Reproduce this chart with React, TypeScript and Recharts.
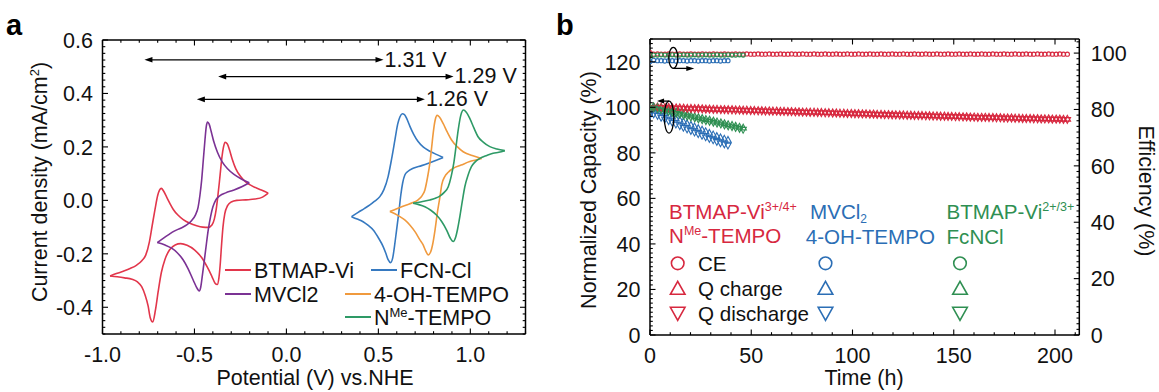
import React from 'react';
import { ComposedChart, Line, Scatter, XAxis, YAxis, ReferenceLine, ReferenceDot } from 'recharts';

const FONT = '"Liberation Sans", Arial, Helvetica, sans-serif';
const FS = 21.5;
const FSB = 20.6;

// ---------- colours ----------
const C_RED = '#e2364b';
const C_PURPLE = '#7b3294';
const C_BLUE = '#3679c0';
const C_ORANGE = '#f09a3e';
const C_GREEN = '#2e9a66';
const B_RED = '#d7283f';
const B_BLUE = '#2b6eb5';
const B_GREEN = '#2f8f52';

// ---------- panel a : cyclic voltammograms (potential V, current mA/cm2) ----------
const btmapFwd: [number, number][] = [
  [-0.959, -0.283], [-0.92, -0.273], [-0.887, -0.265], [-0.85, -0.255], [-0.814, -0.242], [-0.785, -0.225],
  [-0.765, -0.205], [-0.745, -0.155], [-0.73, -0.095], [-0.715, -0.036], [-0.7, 0.018], [-0.69, 0.038],
  [-0.68, 0.045], [-0.668, 0.035], [-0.651, 0.012], [-0.633, -0.012], [-0.615, -0.034], [-0.59, -0.055],
  [-0.561, -0.072], [-0.525, -0.086], [-0.488, -0.095], [-0.455, -0.1], [-0.425, -0.101], [-0.405, -0.092],
  [-0.392, -0.07], [-0.382, -0.035], [-0.373, 0.015], [-0.365, 0.065], [-0.357, 0.12], [-0.35, 0.165],
  [-0.342, 0.2], [-0.333, 0.217], [-0.322, 0.212], [-0.31, 0.19], [-0.295, 0.155], [-0.275, 0.118],
  [-0.25, 0.09], [-0.22, 0.068], [-0.19, 0.055], [-0.16, 0.045], [-0.13, 0.037], [-0.099, 0.027],
];
const btmapRev: [number, number][] = [
  [-0.099, 0.027], [-0.13, 0.012], [-0.17, 0.005], [-0.22, 0.002], [-0.27, 0.0], [-0.3, -0.006],
  [-0.32, -0.02], [-0.335, -0.05], [-0.345, -0.1], [-0.353, -0.17], [-0.36, -0.24], [-0.367, -0.29],
  [-0.376, -0.315], [-0.388, -0.31], [-0.405, -0.285], [-0.43, -0.25], [-0.46, -0.215], [-0.5, -0.185],
  [-0.54, -0.168], [-0.575, -0.162], [-0.605, -0.167], [-0.635, -0.185], [-0.66, -0.22], [-0.68, -0.27],
  [-0.697, -0.34], [-0.712, -0.41], [-0.727, -0.455], [-0.74, -0.44], [-0.752, -0.395], [-0.768, -0.355],
  [-0.787, -0.323], [-0.81, -0.305], [-0.84, -0.295], [-0.88, -0.29], [-0.92, -0.286], [-0.959, -0.283],
];
const mvFwd: [number, number][] = [
  [-0.702, -0.158], [-0.67, -0.142], [-0.64, -0.128], [-0.61, -0.115], [-0.575, -0.104], [-0.542, -0.092],
  [-0.515, -0.075], [-0.495, -0.055], [-0.48, -0.025], [-0.47, 0.02], [-0.461, 0.075], [-0.452, 0.15],
  [-0.443, 0.225], [-0.436, 0.275], [-0.429, 0.293], [-0.42, 0.285], [-0.408, 0.255], [-0.395, 0.22],
  [-0.375, 0.18], [-0.35, 0.145], [-0.32, 0.118], [-0.285, 0.097], [-0.245, 0.08], [-0.202, 0.066],
];
const mvRev: [number, number][] = [
  [-0.202, 0.066], [-0.24, 0.052], [-0.289, 0.038], [-0.33, 0.028], [-0.361, 0.018], [-0.385, 0.0],
  [-0.4, -0.025], [-0.412, -0.06], [-0.425, -0.11], [-0.44, -0.19], [-0.455, -0.27], [-0.466, -0.325],
  [-0.474, -0.339], [-0.485, -0.33], [-0.507, -0.298], [-0.535, -0.255], [-0.561, -0.223], [-0.595, -0.195],
  [-0.624, -0.179], [-0.66, -0.167], [-0.702, -0.158],
];
const fcnFwd: [number, number][] = [
  [0.354, -0.061], [0.39, -0.045], [0.425, -0.03], [0.454, -0.017], [0.48, -0.003], [0.508, 0.014],
  [0.53, 0.04], [0.553, 0.089], [0.572, 0.155], [0.59, 0.226], [0.605, 0.285], [0.617, 0.312],
  [0.63, 0.324], [0.642, 0.321], [0.655, 0.305], [0.671, 0.278], [0.692, 0.247], [0.716, 0.22],
  [0.745, 0.199], [0.78, 0.184], [0.815, 0.172], [0.852, 0.16],
];
const fcnRev: [number, number][] = [
  [0.852, 0.16], [0.815, 0.15], [0.78, 0.141], [0.735, 0.13], [0.689, 0.12], [0.66, 0.108],
  [0.644, 0.095], [0.632, 0.065], [0.622, 0.02], [0.612, -0.04], [0.599, -0.111], [0.588, -0.17],
  [0.578, -0.215], [0.566, -0.233], [0.553, -0.222], [0.54, -0.197], [0.526, -0.173], [0.5, -0.14],
  [0.472, -0.111], [0.445, -0.094], [0.417, -0.08], [0.385, -0.07], [0.354, -0.061],
];
const ohFwd: [number, number][] = [
  [0.5625, -0.042], [0.6, -0.031], [0.63, -0.023], [0.653, -0.017], [0.685, -0.009], [0.716, 0.002],
  [0.738, 0.018], [0.753, 0.039], [0.767, 0.085], [0.78, 0.139], [0.79, 0.2], [0.798, 0.251],
  [0.808, 0.298], [0.82, 0.318], [0.832, 0.312], [0.852, 0.288], [0.875, 0.255], [0.898, 0.226],
  [0.93, 0.2], [0.961, 0.182], [1.01, 0.168], [1.061, 0.157],
];
const ohRev: [number, number][] = [
  [1.061, 0.157], [1.03, 0.151], [0.997, 0.145], [0.95, 0.132], [0.907, 0.12], [0.88, 0.105],
  [0.861, 0.089], [0.845, 0.06], [0.835, 0.014], [0.82, -0.05], [0.808, -0.111], [0.795, -0.165],
  [0.783, -0.195], [0.771, -0.204], [0.758, -0.19], [0.742, -0.165], [0.726, -0.148], [0.7, -0.118],
  [0.671, -0.092], [0.645, -0.074], [0.617, -0.061], [0.59, -0.05], [0.5625, -0.042],
];
const nmeFwd: [number, number][] = [
  [0.689, -0.011], [0.735, -0.005], [0.78, 0.0015], [0.81, 0.008], [0.834, 0.016], [0.858, 0.03],
  [0.88, 0.051], [0.896, 0.09], [0.91, 0.139], [0.922, 0.2], [0.934, 0.263], [0.948, 0.318],
  [0.963, 0.338], [0.978, 0.33], [0.997, 0.307], [1.02, 0.27], [1.042, 0.238], [1.07, 0.218],
  [1.106, 0.201], [1.145, 0.192], [1.1875, 0.186],
];
const nmeRev: [number, number][] = [
  [1.1875, 0.186], [1.155, 0.18], [1.124, 0.176], [1.09, 0.168], [1.052, 0.157], [1.025, 0.143],
  [1.006, 0.126], [0.988, 0.095], [0.97, 0.051], [0.956, -0.005], [0.943, -0.061], [0.93, -0.11],
  [0.921, -0.136], [0.907, -0.154], [0.89, -0.14], [0.871, -0.111], [0.845, -0.08], [0.816, -0.055],
  [0.785, -0.037], [0.753, -0.024], [0.72, -0.016], [0.689, -0.011],
];

const cvNames = ['BTMAP-Vi', 'MVCl2', 'FCN-Cl', '4-OH-TEMPO', 'NMe-TEMPO'];
const cvColors = [C_RED, C_PURPLE, C_BLUE, C_ORANGE, C_GREEN];
const cvBranches = [
  [btmapFwd, btmapRev],
  [mvFwd, mvRev],
  [fcnFwd, fcnRev],
  [ohFwd, ohRev],
  [nmeFwd, nmeRev],
];

// potential-gap arrows
const gapLeft = [-0.772, -0.371, -0.487];
const gapRight = [0.528, 0.909, 0.753];
const gapY = [0.526, 0.463, 0.378];
const gapLabels = ['1.31 V', '1.29 V', '1.26 V'];

const cvXMajor = [-1, -0.5, 0, 0.5, 1];
const cvXLabels = ['-1.0', '-0.5', '0.0', '0.5', '1.0'];
const cvYMajor = [0.6, 0.4, 0.2, 0, -0.2, -0.4];
const cvYLabels = ['0.6', '0.4', '0.2', '0.0', '-0.2', '-0.4'];

// ---------- panel b : cycling (time h) ----------
const redTime = [
  0, 1.8, 3.7, 5.5, 7.4, 9.2, 11.0, 12.9, 14.7, 16.6,
  18.4, 20.2, 22.1, 23.9, 25.8, 27.6, 29.4, 31.3, 33.1, 35.0,
  36.8, 38.6, 40.5, 42.3, 44.2, 46.0, 47.8, 49.7, 51.5, 53.4,
  55.2, 57.0, 58.9, 60.7, 62.6, 64.4, 66.2, 68.1, 69.9, 71.8,
  73.6, 75.4, 77.3, 79.1, 81.0, 82.8, 84.6, 86.5, 88.3, 90.2,
  92.0, 93.8, 95.7, 97.5, 99.4, 101.2, 103.0, 104.9, 106.7, 108.6,
  110.4, 112.2, 114.1, 115.9, 117.8, 119.6, 121.4, 123.3, 125.1, 127.0,
  128.8, 130.6, 132.5, 134.3, 136.2, 138.0, 139.8, 141.7, 143.5, 145.4,
  147.2, 149.0, 150.9, 152.7, 154.6, 156.4, 158.2, 160.1, 161.9, 163.8,
  165.6, 167.4, 169.3, 171.1, 173.0, 174.8, 176.6, 178.5, 180.3, 182.2,
  184.0, 185.8, 187.7, 189.5, 191.4, 193.2, 195.0, 196.9, 198.7, 200.6,
  202.4, 204.2, 206.1,
];
const redCE = [
  100.2, 99.6, 99.7, 99.6, 99.6, 99.7, 99.6, 99.6, 99.7, 99.6,
  99.6, 99.7, 99.6, 99.6, 99.7, 99.6, 99.6, 99.7, 99.6, 99.6,
  99.7, 99.6, 99.6, 99.7, 99.6, 99.6, 99.7, 99.6, 99.6, 99.7,
  99.6, 99.6, 99.7, 99.6, 99.6, 99.7, 99.6, 99.6, 99.7, 99.6,
  99.6, 99.7, 99.6, 99.6, 99.7, 99.6, 99.6, 99.7, 99.6, 99.6,
  99.7, 99.6, 99.6, 99.7, 99.6, 99.6, 99.7, 99.6, 99.6, 99.7,
  99.6, 99.6, 99.7, 99.6, 99.6, 99.7, 99.6, 99.6, 99.7, 99.6,
  99.6, 99.7, 99.6, 99.6, 99.7, 99.6, 99.6, 99.7, 99.6, 99.6,
  99.7, 99.6, 99.6, 99.7, 99.6, 99.6, 99.7, 99.6, 99.6, 99.7,
  99.6, 99.6, 99.7, 99.6, 99.6, 99.7, 99.6, 99.6, 99.7, 99.6,
  99.6, 99.7, 99.6, 99.6, 99.7, 99.6, 99.6, 99.7, 99.6, 99.6,
  99.7, 99.6, 99.6,
];
const redCharge = [
  99.6, 100.2, 100.3, 100.2, 100.1, 100.1, 100.0, 99.9, 99.9, 99.8,
  99.7, 99.7, 99.6, 99.6, 99.5, 99.4, 99.4, 99.3, 99.3, 99.2,
  99.2, 99.1, 99.1, 99.0, 99.0, 98.9, 98.9, 98.8, 98.8, 98.7,
  98.7, 98.6, 98.6, 98.5, 98.5, 98.4, 98.4, 98.3, 98.3, 98.2,
  98.2, 98.1, 98.1, 98.0, 98.0, 97.9, 97.9, 97.8, 97.8, 97.7,
  97.7, 97.6, 97.6, 97.5, 97.5, 97.4, 97.4, 97.3, 97.3, 97.2,
  97.2, 97.1, 97.1, 97.0, 97.0, 96.9, 96.9, 96.8, 96.8, 96.7,
  96.7, 96.6, 96.6, 96.6, 96.5, 96.5, 96.4, 96.4, 96.3, 96.3,
  96.2, 96.2, 96.1, 96.1, 96.0, 96.0, 95.9, 95.9, 95.8, 95.8,
  95.8, 95.7, 95.7, 95.6, 95.6, 95.5, 95.5, 95.5, 95.4, 95.4,
  95.3, 95.3, 95.3, 95.2, 95.2, 95.1, 95.1, 95.1, 95.0, 95.0,
  95.0, 94.9, 94.9,
];
const redDischarge = [
  99.2, 99.8, 99.9, 99.8, 99.7, 99.7, 99.6, 99.5, 99.5, 99.4,
  99.3, 99.3, 99.2, 99.2, 99.1, 99.0, 99.0, 98.9, 98.9, 98.8,
  98.8, 98.7, 98.7, 98.6, 98.6, 98.5, 98.5, 98.4, 98.4, 98.3,
  98.3, 98.2, 98.2, 98.1, 98.1, 98.0, 98.0, 97.9, 97.9, 97.8,
  97.8, 97.7, 97.7, 97.6, 97.6, 97.5, 97.5, 97.4, 97.4, 97.3,
  97.3, 97.2, 97.2, 97.1, 97.1, 97.0, 97.0, 96.9, 96.9, 96.8,
  96.8, 96.7, 96.7, 96.6, 96.6, 96.5, 96.5, 96.4, 96.4, 96.3,
  96.3, 96.2, 96.2, 96.2, 96.1, 96.1, 96.0, 96.0, 95.9, 95.9,
  95.8, 95.8, 95.7, 95.7, 95.6, 95.6, 95.5, 95.5, 95.4, 95.4,
  95.4, 95.3, 95.3, 95.2, 95.2, 95.1, 95.1, 95.1, 95.0, 95.0,
  94.9, 94.9, 94.9, 94.8, 94.8, 94.7, 94.7, 94.7, 94.6, 94.6,
  94.6, 94.5, 94.5,
];

const blueTime = [
  0, 1.8, 3.7, 5.5, 7.3, 9.2, 11.0, 12.8, 14.7, 16.5, 18.3,
  20.2, 22.0, 23.8, 25.7, 27.5, 29.3, 31.2, 33.0, 34.8, 36.7, 38.5,
];
const blueCE = [
  97.0, 97.4, 97.3, 97.3, 97.2, 97.3, 97.3, 97.2, 97.3, 97.3, 97.2,
  97.3, 97.3, 97.2, 97.3, 97.3, 97.2, 97.3, 97.3, 97.2, 97.3, 97.3,
];
const blueCharge = [
  99.0, 99.6, 98.9, 98.1, 97.4, 96.6, 95.9, 95.1, 94.4, 93.7, 92.9,
  92.2, 91.5, 90.8, 90.1, 89.4, 88.7, 88.0, 87.3, 86.7, 86.1, 85.6,
];
const blueDischarge = [
  96.6, 97.0, 96.3, 95.5, 94.8, 94.0, 93.3, 92.5, 91.8, 91.1, 90.4,
  89.7, 89.0, 88.3, 87.6, 86.9, 86.2, 85.6, 84.9, 84.3, 83.8, 83.3,
];

const greenTime = [
  0, 1.8, 3.7, 5.5, 7.4, 9.2, 11.0, 12.9, 14.7, 16.6, 18.4, 20.2, 22.1,
  23.9, 25.8, 27.6, 29.4, 31.3, 33.1, 35.0, 36.8, 38.6, 40.5, 42.3, 44.2, 46.0,
];
const greenCE = [
  99.0, 99.3, 99.3, 99.4, 99.3, 99.3, 99.4, 99.3, 99.3, 99.4, 99.3, 99.3, 99.4,
  99.3, 99.3, 99.4, 99.3, 99.3, 99.4, 99.3, 99.3, 99.4, 99.3, 99.3, 99.4, 99.3,
];
const greenCharge = [
  100.0, 100.4, 100.0, 99.6, 99.2, 98.8, 98.4, 98.0, 97.6, 97.2, 96.8, 96.4, 96.0,
  95.6, 95.2, 94.8, 94.5, 94.1, 93.7, 93.3, 92.9, 92.5, 92.2, 91.8, 91.4, 91.0,
];
const greenDischarge = [
  99.2, 99.6, 99.2, 98.8, 98.4, 98.0, 97.6, 97.2, 96.8, 96.4, 96.0, 95.6, 95.2,
  94.8, 94.4, 94.0, 93.7, 93.3, 92.9, 92.5, 92.1, 91.7, 91.4, 91.0, 90.6, 90.2,
];

const tXMajor = [0, 50, 100, 150, 200];
const tXLabels = ['0', '50', '100', '150', '200'];
const capMajor = [0, 20, 40, 60, 80, 100, 120];
const capLabels = ['0', '20', '40', '60', '80', '100', '120'];
const effMajor = [0, 20, 40, 60, 80, 100];
const effLabels = ['0', '20', '40', '60', '80', '100'];

// ---------- helpers ----------
const range = (a: number, b: number, s: number) => {
  const out: number[] = [];
  const n = Math.round((b - a) / s);
  for (let i = 0; i <= n; i++) out.push(Math.round((a + i * s) * 1000) / 1000);
  return out;
};
const pairs = (d: [number, number][]) => d.map(([x, y]) => ({ x, y }));
const zipXY = (xs: number[], ys: number[]) => xs.map((x, i) => ({ x, y: ys[i] }));

type Side = 'bottom' | 'top' | 'left' | 'right';
function tickFactory(side: Side, majors: number[], labels: string[] | null) {
  return (props: any) => {
    const { x, y, payload } = props;
    const v = Number(payload.value);
    const idx = majors.findIndex((m) => Math.abs(m - v) < 1e-6);
    const major = idx >= 0;
    const len = major ? 5.5 : 2.8;
    let x2 = x;
    let y2 = y;
    if (side === 'bottom') y2 = y - len;
    if (side === 'top') y2 = y + len;
    if (side === 'left') x2 = x + len;
    if (side === 'right') x2 = x - len;
    let label: any = null;
    if (labels && major) {
      const t = labels[idx];
      const common = { fontFamily: FONT, fontSize: FS, fill: '#111' };
      if (side === 'bottom')
        label = <text x={x} y={y + 27.5} textAnchor="middle" {...common}>{t}</text>;
      if (side === 'left')
        label = <text x={x - 9.5} y={y + FS * 0.36} textAnchor="end" {...common}>{t}</text>;
      if (side === 'right')
        label = <text x={x + 11.5} y={y + FS * 0.36} textAnchor="start" {...common}>{t}</text>;
    }
    return (
      <g>
        <line x1={x} y1={y} x2={x2} y2={y2} stroke="#000" strokeWidth={1.1} />
        {label}
      </g>
    );
  };
}

const axisLine = { stroke: '#000', strokeWidth: 1.5 };

const gapArrow = (label: string) => (p: any) => {
  const { x1, x2, y1 } = p;
  const xa = Math.min(x1, x2);
  const xb = Math.max(x1, x2);
  const y = y1;
  return (
    <g>
      <line x1={xa + 4} y1={y} x2={xb - 4} y2={y} stroke="#000" strokeWidth={1.2} />
      <polygon points={`${xa},${y} ${xa + 8},${y - 2.8} ${xa + 8},${y + 2.8}`} fill="#000" />
      <polygon points={`${xb},${y} ${xb - 8},${y - 2.8} ${xb - 8},${y + 2.8}`} fill="#000" />
      <text x={xb + 1} y={y + 6.8} fontFamily={FONT} fontSize={FS} fill="#111">{label}</text>
    </g>
  );
};

const circleShape = (c: string) => (p: any) => (
  <circle cx={p.cx} cy={p.cy} r={2.1} fill="none" stroke={c} strokeWidth={1.1} />
);
const upShape = (c: string) => (p: any) => (
  <polygon
    points={`${p.cx},${p.cy - 3.6} ${p.cx - 3.2},${p.cy + 2.2} ${p.cx + 3.2},${p.cy + 2.2}`}
    fill="none" stroke={c} strokeWidth={1.1}
  />
);
const downShape = (c: string) => (p: any) => (
  <polygon
    points={`${p.cx},${p.cy + 3.6} ${p.cx - 3.2},${p.cy - 2.2} ${p.cx + 3.2},${p.cy - 2.2}`}
    fill="none" stroke={c} strokeWidth={1.1}
  />
);

const topEllipse = (p: any) => (
  <g fill="none" stroke="#000" strokeWidth={1.3}>
    <ellipse cx={p.cx} cy={p.cy} rx={4.5} ry={10.5} />
    <line x1={p.cx} y1={p.cy + 10.5} x2={p.cx + 14} y2={p.cy + 10.5} />
    <polygon points={`${p.cx + 21},${p.cy + 10.5} ${p.cx + 13},${p.cy + 8} ${p.cx + 13},${p.cy + 13}`} fill="#000" stroke="none" />
  </g>
);
const lowEllipse = (p: any) => (
  <g fill="none" stroke="#000" strokeWidth={1.3}>
    <ellipse cx={p.cx} cy={p.cy} rx={4.8} ry={16} />
    <line x1={p.cx} y1={p.cy - 16} x2={p.cx - 6} y2={p.cy - 16} />
    <polygon points={`${p.cx - 12},${p.cy - 16} ${p.cx - 5},${p.cy - 18.5} ${p.cx - 5},${p.cy - 13.5}`} fill="#000" stroke="none" />
  </g>
);

// axes have a 1px size (a 0px axis is not drawn); margins account for it
function PanelA() {
  return (
    <ComposedChart width={560} height={392} margin={{ top: 39, right: 33.5, bottom: 57, left: 101.5 }}>
      <XAxis xAxisId="xb" type="number" dataKey="x" orientation="bottom" domain={[-1, 1.3]} allowDataOverflow
        ticks={range(-1, 1.3, 0.1)} interval={0} height={1} tickSize={0} tickMargin={0}
        axisLine={axisLine} tickLine={false} tick={tickFactory('bottom', cvXMajor, cvXLabels)} />
      <XAxis xAxisId="xt" type="number" dataKey="x" orientation="top" domain={[-1, 1.3]} allowDataOverflow
        ticks={range(-1, 1.3, 0.1)} interval={0} height={1} tickSize={0} tickMargin={0}
        axisLine={axisLine} tickLine={false} tick={tickFactory('top', cvXMajor, null)} />
      <YAxis yAxisId="yl" type="number" dataKey="y" orientation="left" domain={[-0.5, 0.6]} allowDataOverflow
        ticks={range(-0.5, 0.6, 0.025)} interval={0} width={1} tickSize={0} tickMargin={0}
        axisLine={axisLine} tickLine={false} tick={tickFactory('left', cvYMajor, cvYLabels)} />
      <YAxis yAxisId="yr" type="number" dataKey="y" orientation="right" domain={[-0.5, 0.6]} allowDataOverflow
        ticks={range(-0.5, 0.6, 0.025)} interval={0} width={1} tickSize={0} tickMargin={0}
        axisLine={axisLine} tickLine={false} tick={tickFactory('right', cvYMajor, null)} />
      {cvBranches.map((br, i) =>
        br.map((d, j) => (
          <Line key={`cv-${i}-${j}`} xAxisId="xb" yAxisId="yl" data={pairs(d)} dataKey="y" type="monotone"
            stroke={cvColors[i]} strokeWidth={1.6} dot={false} activeDot={false} isAnimationActive={false} />
        ))
      )}
      {gapLabels.map((lab, i) => (
        <ReferenceLine key={`gap-${i}`} xAxisId="xb" yAxisId="yl"
          segment={[{ x: gapLeft[i], y: gapY[i] }, { x: gapRight[i], y: gapY[i] }]}
          shape={gapArrow(lab)} ifOverflow="visible" />
      ))}
    </ComposedChart>
  );
}

function PanelB() {
  const series = [
    { t: redTime, ce: redCE, ch: redCharge, dis: redDischarge, c: B_RED },
    { t: blueTime, ce: blueCE, ch: blueCharge, dis: blueDischarge, c: B_BLUE },
    { t: greenTime, ce: greenCE, ch: greenCharge, dis: greenDischarge, c: B_GREEN },
  ];
  return (
    <ComposedChart width={599} height={392} margin={{ top: 38, right: 78.7, bottom: 56, left: 89 }}>
      <XAxis xAxisId="b" type="number" dataKey="x" orientation="bottom" domain={[0, 212]} allowDataOverflow
        ticks={range(0, 210, 10)} interval={0} height={1} tickSize={0} tickMargin={0}
        axisLine={axisLine} tickLine={false} tick={tickFactory('bottom', tXMajor, tXLabels)} />
      <XAxis xAxisId="t" type="number" dataKey="x" orientation="top" domain={[0, 212]} allowDataOverflow
        ticks={range(0, 210, 10)} interval={0} height={1} tickSize={0} tickMargin={0}
        axisLine={axisLine} tickLine={false} tick={tickFactory('top', tXMajor, null)} />
      <YAxis yAxisId="left" type="number" dataKey="y" orientation="left" domain={[0, 130]} allowDataOverflow
        ticks={range(0, 130, 2)} interval={0} width={1} tickSize={0} tickMargin={0}
        axisLine={axisLine} tickLine={false} tick={tickFactory('left', capMajor, capLabels)} />
      <YAxis yAxisId="right" type="number" dataKey="y" orientation="right" domain={[0, 105]} allowDataOverflow
        ticks={range(0, 104, 2)} interval={0} width={1} tickSize={0} tickMargin={0}
        axisLine={axisLine} tickLine={false} tick={tickFactory('right', effMajor, effLabels)} />
      {series.map((s, i) => (
        <Scatter key={`ce-${i}`} xAxisId="b" yAxisId="right" data={zipXY(s.t, s.ce)}
          shape={circleShape(s.c)} isAnimationActive={false} />
      ))}
      {series.map((s, i) => (
        <Scatter key={`ch-${i}`} xAxisId="b" yAxisId="left" data={zipXY(s.t, s.ch)}
          shape={upShape(s.c)} isAnimationActive={false} />
      ))}
      {series.map((s, i) => (
        <Scatter key={`dis-${i}`} xAxisId="b" yAxisId="left" data={zipXY(s.t, s.dis)}
          shape={downShape(s.c)} isAnimationActive={false} />
      ))}
      <ReferenceDot xAxisId="b" yAxisId="right" x={11.5} y={98.3} shape={topEllipse} ifOverflow="visible" />
      <ReferenceDot xAxisId="b" yAxisId="left" x={9.4} y={95.7} shape={lowEllipse} ifOverflow="visible" />
    </ComposedChart>
  );
}

function Overlay() {
  const t = { fontFamily: FONT, fontSize: FS, fill: '#111' };
  const tb = { fontFamily: FONT, fontSize: FSB, fill: '#111' };
  const legendA = [
    { x1: 225, x2: 251, tx: 254, y: 270, i: 0 },
    { x1: 225, x2: 251, tx: 254, y: 294, i: 1 },
    { x1: 371, x2: 397, tx: 400, y: 270, i: 2 },
    { x1: 345, x2: 371, tx: 374, y: 294, i: 3 },
    { x1: 345, x2: 371, tx: 374, y: 317, i: 4 },
  ];
  const markerCols = [
    { cx: 677.7, c: B_RED },
    { cx: 825.5, c: B_BLUE },
    { cx: 960, c: B_GREEN },
  ];
  const rows = [263.3, 288.3, 313.3];
  return (
    <svg width={1159} height={392} style={{ position: 'absolute', left: 0, top: 0, pointerEvents: 'none' }}>
      <text x={6} y={35} fontFamily={FONT} fontSize={29} fontWeight="bold" fill="#000">a</text>
      <text x={556} y={35} fontFamily={FONT} fontSize={29} fontWeight="bold" fill="#000">b</text>

      {/* panel a titles */}
      <text {...t} x={315} y={385} textAnchor="middle">Potential (V) vs.NHE</text>
      <text {...t} transform="translate(47,182) rotate(-90)" textAnchor="middle">
        Current density (mA/cm<tspan fontSize={13} dy={-8}>2</tspan><tspan dy={8}>)</tspan>
      </text>

      {/* panel a legend */}
      {legendA.map((l) => (
        <g key={l.i}>
          <line x1={l.x1} y1={l.y} x2={l.x2} y2={l.y} stroke={cvColors[l.i]} strokeWidth={2} />
          {l.i === 4 ? (
            <text {...t} x={l.tx} y={l.y + 7.7}>N<tspan fontSize={13} dy={-8}>Me</tspan><tspan dy={8}>-TEMPO</tspan></text>
          ) : (
            <text {...t} x={l.tx} y={l.y + 7.7}>{cvNames[l.i]}</text>
          )}
        </g>
      ))}

      {/* panel b titles */}
      <text {...t} x={864} y={385} textAnchor="middle">Time (h)</text>
      <text {...t} transform="translate(596,190) rotate(-90)" textAnchor="middle">Normalized Capacity (%)</text>
      <text {...t} transform="translate(1139,191) rotate(90)" textAnchor="middle">Efficiency (%)</text>

      {/* panel b legend */}
      <text {...tb} fill={B_RED} x={669} y={219.4}>BTMAP-Vi<tspan fontSize={12.5} dy={-8}>3+/4+</tspan></text>
      <text {...tb} fill={B_RED} x={669} y={242.7}>N<tspan fontSize={12.5} dy={-8}>Me</tspan><tspan dy={8}>-TEMPO</tspan></text>
      <text {...tb} fill={B_BLUE} x={810} y={219.4}>MVCl<tspan fontSize={12} dy={4}>2</tspan></text>
      <text {...tb} fill={B_BLUE} x={805.7} y={243.5}>4-OH-TEMPO</text>
      <text {...tb} fill={B_GREEN} x={946.5} y={219.4}>BTMAP-Vi<tspan fontSize={12.5} dy={-8}>2+/3+</tspan></text>
      <text {...tb} fill={B_GREEN} x={946.5} y={243.5}>FcNCl</text>

      {markerCols.map((m, k) => (
        <g key={k} fill="none" stroke={m.c} strokeWidth={1.6}>
          <circle cx={m.cx} cy={rows[0]} r={6.3} />
          <polygon points={`${m.cx},${rows[1] - 7} ${m.cx - 7.3},${rows[1] + 6} ${m.cx + 7.3},${rows[1] + 6}`} />
          <polygon points={`${m.cx},${rows[2] + 7} ${m.cx - 7.3},${rows[2] - 6} ${m.cx + 7.3},${rows[2] - 6}`} />
        </g>
      ))}
      <text {...tb} x={698} y={rows[0] + 7.5}>CE</text>
      <text {...tb} x={698} y={rows[1] + 7.5}>Q charge</text>
      <text {...tb} x={698} y={rows[2] + 7.5}>Q discharge</text>
    </svg>
  );
}

export default function App() {
  return (
    <div style={{ position: 'absolute', left: 0, top: 0, width: 1159, height: 392, background: '#fff', fontFamily: FONT, overflow: 'hidden' }}>
      <div style={{ position: 'absolute', left: 0, top: 0 }}>
        <PanelA />
      </div>
      <div style={{ position: 'absolute', left: 560, top: 0 }}>
        <PanelB />
      </div>
      <Overlay />
    </div>
  );
}
